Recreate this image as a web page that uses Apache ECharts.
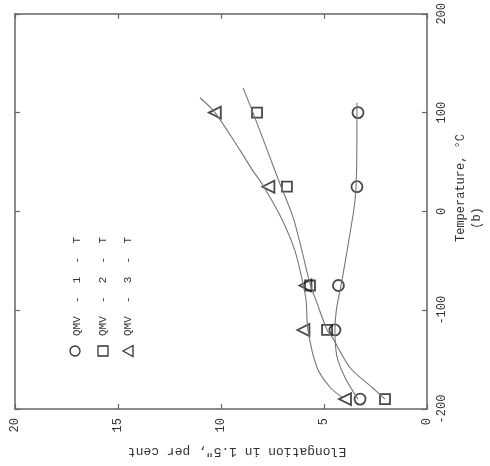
<!DOCTYPE html>
<html>
<head>
<meta charset="utf-8">
<script src="https://cdn.jsdelivr.net/npm/echarts@6/dist/echarts.min.js"></script>
<style>html,body{margin:0;padding:0;background:#fff}#c{width:490px;height:466px}</style>
</head>
<body>
<div id="c"></div>
<script>
// Temperature (°C) of the test points
const tempPts = [100, 25, -75, -120, -190];
// Elongation in 1.5", per cent, at those temperatures
const q1Elong = [3.35, 3.4, 4.3, 4.47, 3.25];
const q2Elong = [8.25, 6.8, 5.68, 4.85, 2.04];
const q3Elong = [10.3, 7.7, 5.9, 6.0, 3.98];
// Fitted curves: [elongation, temperature]
const q1Curve = [[3.4,110],[3.4,100],[3.42,40],[3.5,10],[3.8,-30],[4.13,-70],[4.4,-100],[4.47,-120],[4.37,-147],[3.98,-168],[3.35,-190]];
const q2Curve = [[8.93,125],[8.45,100],[7.72,60],[7.14,28],[6.5,-6],[6.07,-40],[5.68,-73],[5.39,-90],[4.85,-120],[4.61,-127],[3.74,-158],[2.62,-179],[2.04,-190]];
const q3Curve = [[11.02,115],[10.29,100],[9.08,62],[8.45,41],[8.01,28],[7.09,-6],[6.41,-40],[6.02,-73],[5.87,-90],[5.78,-120],[5.34,-158],[4.71,-178],[4.13,-188]];
const seriesNames = ['QMV  -  1  -  T', 'QMV  -  2  -  T', 'QMV  -  3  -  T'];
const elongTicks = {min: 0, max: 20, interval: 5};
const tempTicks = {min: -200, max: 200, interval: 100};

const FONT = '"Liberation Mono", "DejaVu Sans Mono", monospace';
const pts = (arr) => arr.map((e, i) => [e, tempPts[i]]);
const axisLine = {show: true, onZero: false, lineStyle: {color: '#666', width: 1.5}};
const tick = {show: true, inside: true, length: 5, lineStyle: {color: '#666', width: 1.2}};

const chart = echarts.init(document.getElementById('c'));
const markerStyle = {color: 'rgba(0,0,0,0)', borderColor: '#1a1a1a', borderWidth: 1.8};
const lineStyle = {color: '#777', width: 1.1};

chart.setOption({
  animation: false,
  backgroundColor: '#fff',
  grid: {left: 15, right: 63, top: 13, bottom: 57},
  xAxis: [
    {type: 'value', ...elongTicks, inverse: true, position: 'bottom',
     axisLine, axisTick: tick, splitLine: {show: false},
     axisLabel: {rotate: 90, fontFamily: FONT, fontSize: 12, color: '#333', margin: 9}},
    {type: 'value', ...elongTicks, inverse: true, position: 'top',
     axisLine, axisTick: tick, splitLine: {show: false}, axisLabel: {show: false}}
  ],
  yAxis: [
    {type: 'value', ...tempTicks, position: 'right',
     axisLine, axisTick: tick, splitLine: {show: false},
     axisLabel: {rotate: 90, fontFamily: FONT, fontSize: 12, color: '#333', margin: 9}},
    {type: 'value', ...tempTicks, position: 'left',
     axisLine, axisTick: tick, splitLine: {show: false}, axisLabel: {show: false}}
  ],
  graphic: [
    {type: 'text', x: 237, y: 451, rotation: Math.PI,
     style: {text: 'Elongation in 1.5", per cent', fontFamily: FONT, fontSize: 13, fill: '#333', align: 'center', verticalAlign: 'middle'}},
    {type: 'text', x: 461, y: 188, rotation: Math.PI / 2,
     style: {text: 'Temperature, °C', fontFamily: FONT, fontSize: 12, fill: '#333', align: 'center', verticalAlign: 'middle'}},
    {type: 'text', x: 477, y: 218, rotation: Math.PI / 2,
     style: {text: '(b)', fontFamily: FONT, fontSize: 12, fill: '#333', align: 'center', verticalAlign: 'middle'}},
    {type: 'circle', shape: {cx: 75, cy: 351, r: 5}, style: {fill: 'none', stroke: '#333', lineWidth: 1.3}},
    {type: 'rect', shape: {x: 98, y: 346, width: 10, height: 10}, style: {fill: 'none', stroke: '#333', lineWidth: 1.3}},
    {type: 'polygon', shape: {points: [[123, 351], [133, 345.5], [133, 356.5]]}, style: {fill: 'none', stroke: '#333', lineWidth: 1.3}},
    {type: 'text', x: 77, y: 336, rotation: Math.PI / 2,
     style: {text: seriesNames[0], fontFamily: FONT, fontSize: 11, fill: '#333', align: 'left', verticalAlign: 'middle'}},
    {type: 'text', x: 103, y: 336, rotation: Math.PI / 2,
     style: {text: seriesNames[1], fontFamily: FONT, fontSize: 11, fill: '#333', align: 'left', verticalAlign: 'middle'}},
    {type: 'text', x: 128, y: 336, rotation: Math.PI / 2,
     style: {text: seriesNames[2], fontFamily: FONT, fontSize: 11, fill: '#333', align: 'left', verticalAlign: 'middle'}}
  ],
  series: [
    {type: 'line', name: seriesNames[0] + ' fit', data: q1Curve, smooth: 0.3, showSymbol: false, lineStyle},
    {type: 'line', name: seriesNames[1] + ' fit', data: q2Curve, smooth: 0.3, showSymbol: false, lineStyle},
    {type: 'line', name: seriesNames[2] + ' fit', data: q3Curve, smooth: 0.3, showSymbol: false, lineStyle},
    {type: 'scatter', name: seriesNames[0], data: pts(q1Elong), symbol: 'circle', symbolSize: 11, itemStyle: markerStyle},
    {type: 'scatter', name: seriesNames[1], data: pts(q2Elong), symbol: 'rect', symbolSize: 10, itemStyle: markerStyle},
    {type: 'scatter', name: seriesNames[2], data: pts(q3Elong), symbol: 'triangle', symbolSize: 12, symbolRotate: 90, itemStyle: markerStyle}
  ]
});
</script>
</body>
</html>
